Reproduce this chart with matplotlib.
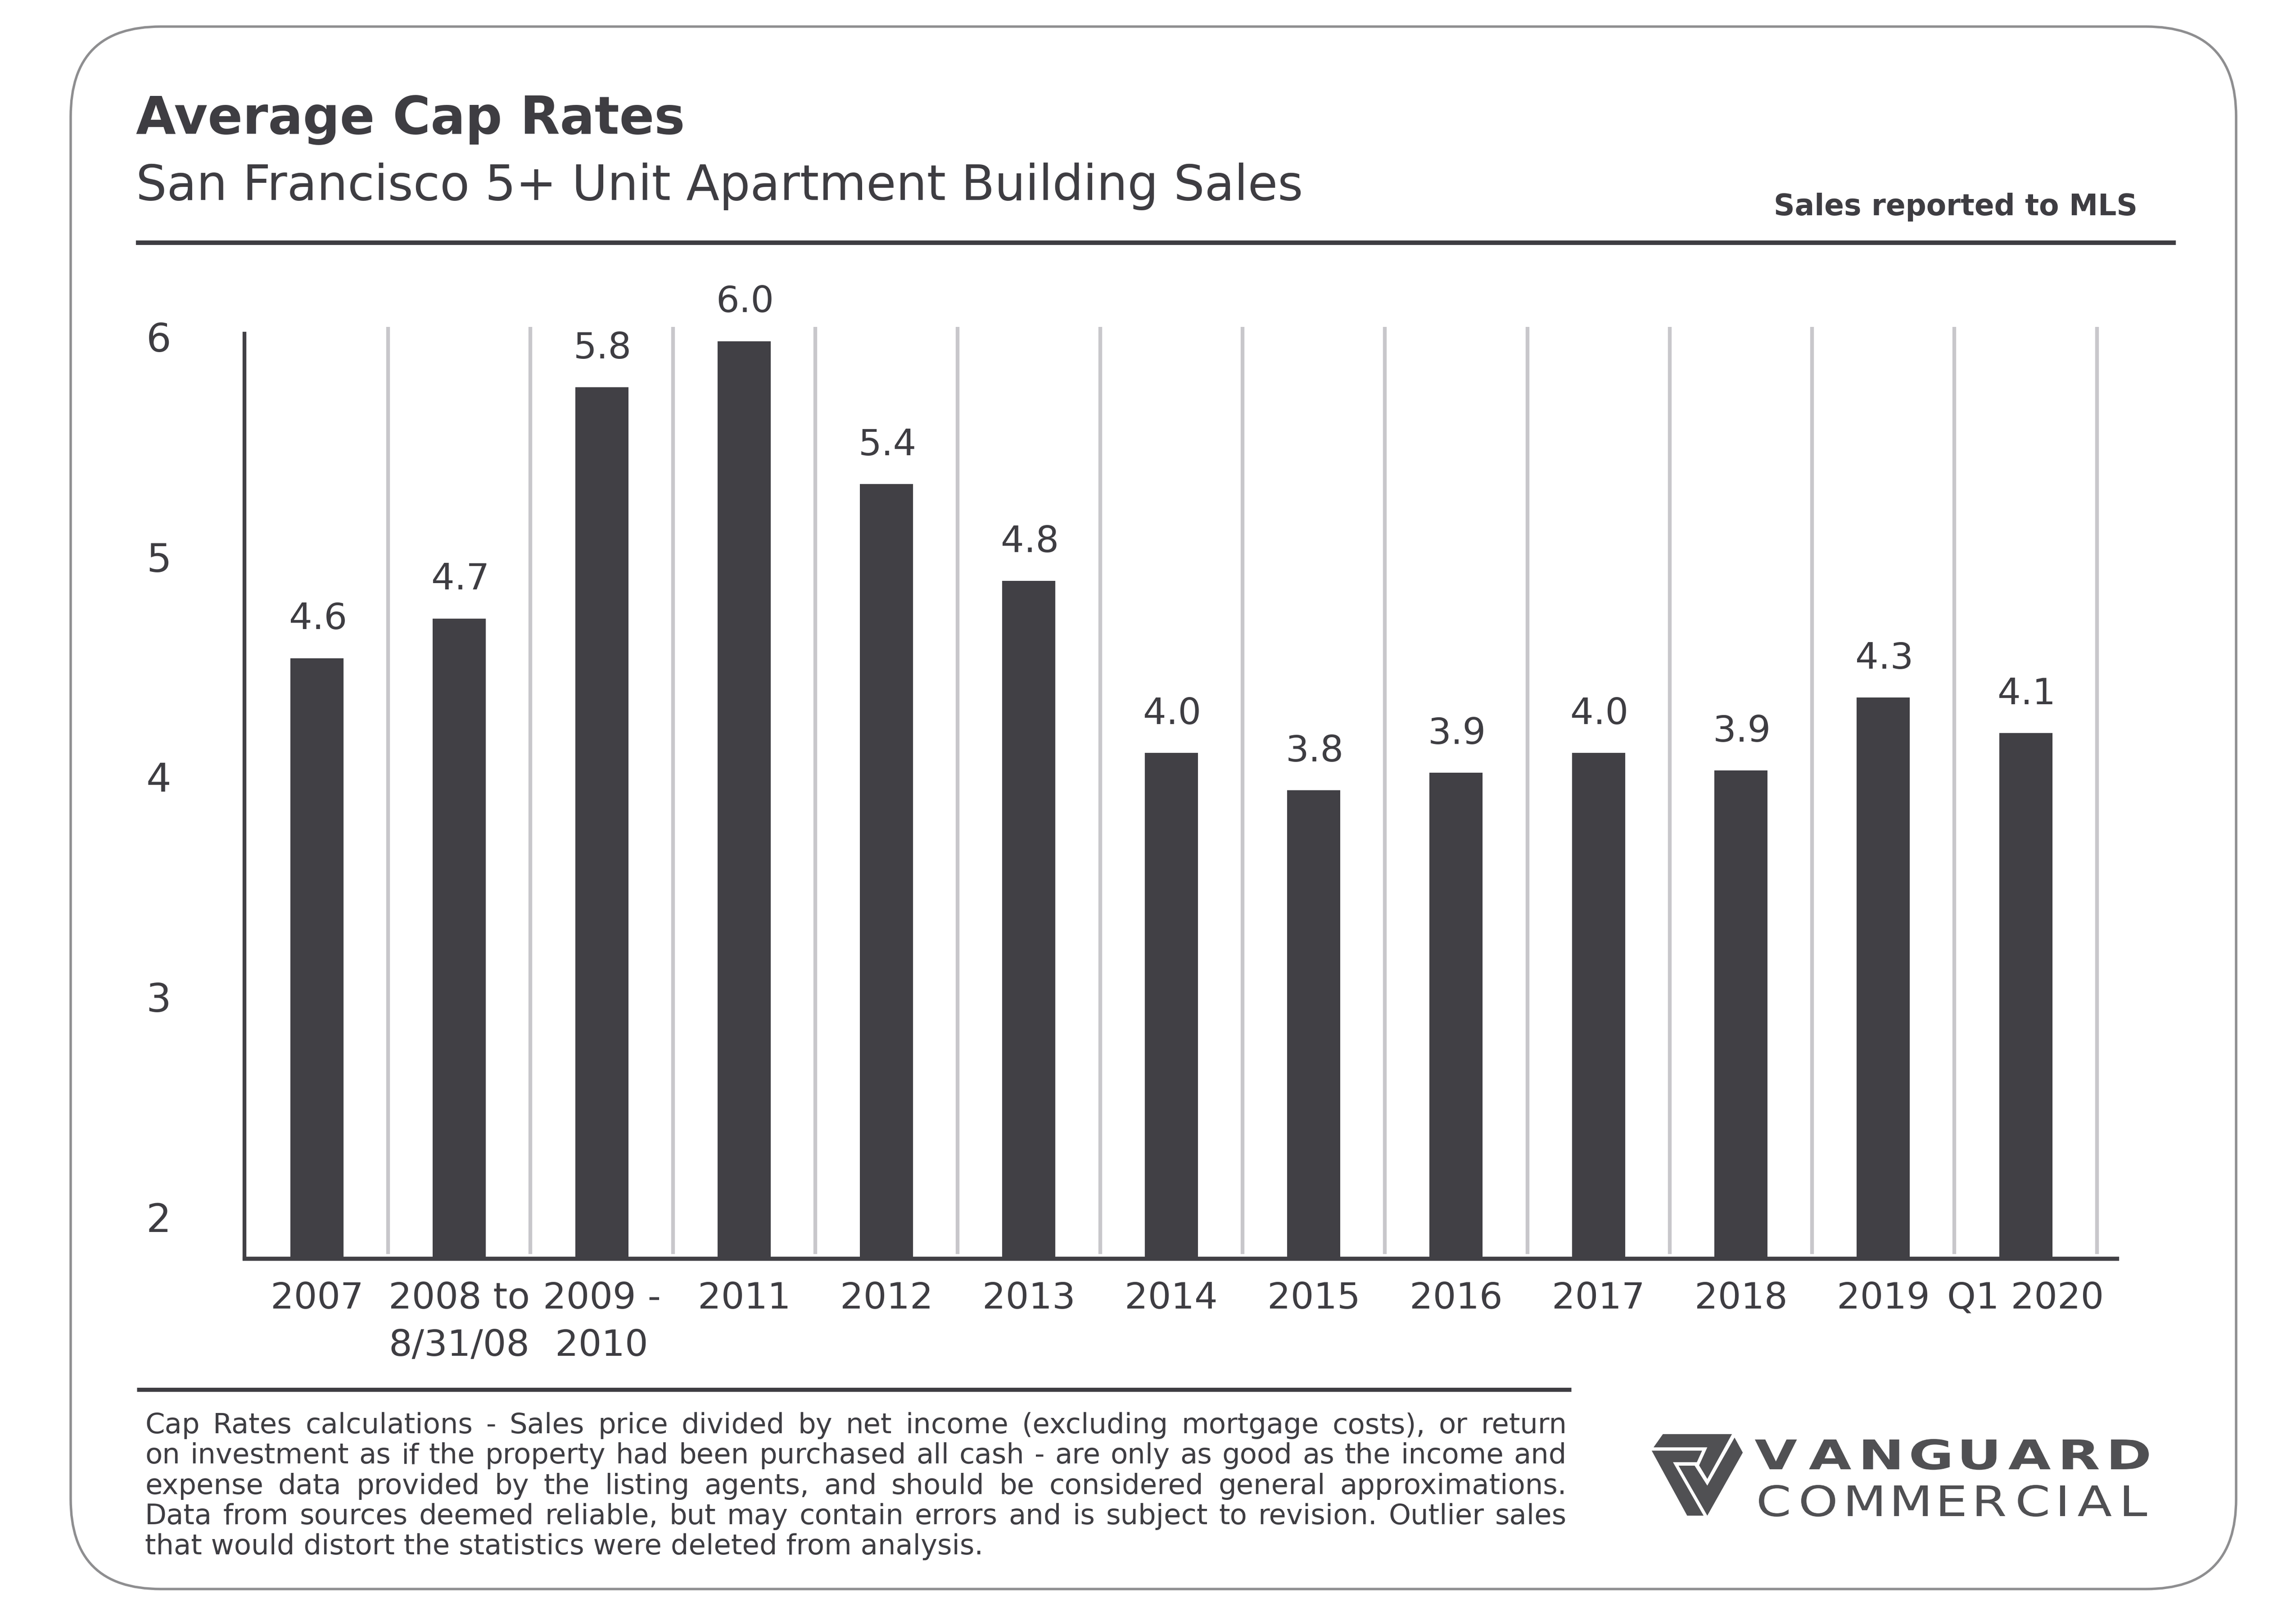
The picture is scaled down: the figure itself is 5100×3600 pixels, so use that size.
import numpy as np
import matplotlib
matplotlib.use("Agg")
import matplotlib.pyplot as plt
from matplotlib.patches import FancyBboxPatch, Polygon, PathPatch
from matplotlib.textpath import TextPath
from matplotlib.font_manager import FontProperties
from matplotlib.transforms import Affine2D

# data
categories = ['2007', '2008 to\n8/31/08', '2009 -\n2010', '2011', '2012', '2013', '2014',
              '2015', '2016', '2017', '2018', '2019', 'Q1 2020']
bar_heights = [4.54, 4.72, 5.77, 5.98, 5.33, 4.89, 4.11, 3.94, 4.02, 4.11, 4.03, 4.36, 4.20]
bar_labels = ['4.6', '4.7', '5.8', '6.0', '5.4', '4.8', '4.0', '3.8', '3.9', '4.0', '3.9', '4.3', '4.1']
y_ticks = [2, 3, 4, 5, 6]

title = 'Average Cap Rates'
subtitle = 'San Francisco 5+ Unit Apartment Building Sales'
source = 'Sales reported to MLS'
footer = ['Cap Rates calculations - Sales price divided by net income (excluding mortgage costs), or return',
          'on investment as if the property had been purchased all cash - are only as good as the income and',
          'expense data provided by the listing agents, and should be considered general approximations.',
          'Data from sources deemed reliable, but may contain errors and is subject to revision. Outlier sales',
          'that would distort the statistics were deleted from analysis.']

TXT = '#3e3d42'
BAR = '#414045'
SEP = '#c8c7cb'
LOGO = '#505053'

plt.rcParams['font.family'] = ['DejaVu Sans']

W, H = 5100, 3600
fig = plt.figure(figsize=(17, 12), dpi=300)

# background axes in pixel units
bg = fig.add_axes([0, 0, 1, 1], zorder=0)
bg.set_xlim(0, W)
bg.set_ylim(H, 0)
bg.axis('off')

bg.add_patch(FancyBboxPatch((157, 59), 4810, 3470, boxstyle='round,pad=0,rounding_size=200',
                            fill=False, ec='#8e8e90', lw=1.3))

bg.text(302, 297, title, fontsize=27.5, fontweight='bold', color=TXT, va='baseline')
bg.text(302, 444, subtitle, fontsize=25.9, color=TXT, va='baseline')
bg.text(4748, 478, source, fontsize=15.5, fontweight='bold', color=TXT, va='baseline', ha='right')
bg.plot([302, 4833], [539, 539], color=TXT, lw=2.4, solid_capstyle='butt')
bg.plot([304, 3490], [3086, 3086], color=TXT, lw=2.2, solid_capstyle='butt')

renderer = fig.canvas.get_renderer()


def justify(tokens, x0, x1, y, size, **kw):
    txts = [bg.text(0, y, t, va='baseline', ha='left', fontsize=size, **kw) for t in tokens]
    widths = [t.get_window_extent(renderer).width for t in txts]
    gap = (x1 - x0 - sum(widths)) / max(len(tokens) - 1, 1)
    if gap < size * 0.2:  # line too long, shrink it a bit
        f = (x1 - x0 - size * 0.25 * (len(tokens) - 1)) / sum(widths)
        for t in txts:
            t.set_fontsize(size * f)
        widths = [w * f for w in widths]
        gap = (x1 - x0 - sum(widths)) / max(len(tokens) - 1, 1)
    x = x0
    for t, w in zip(txts, widths):
        t.set_x(x)
        x += w + gap


for i, line in enumerate(footer):
    yb = 3183 + i * 67.3
    if i < len(footer) - 1:
        justify(line.split(), 322, 3480, yb, 15, color=TXT)
    else:
        bg.text(322, yb, line, fontsize=15, color=TXT, va='baseline')


# logo: wide letters drawn as stretched glyph outlines
def stretched(text, x0, x1, baseline, cap, sx, weight):
    fp = FontProperties(family='DejaVu Sans', weight=weight)
    paths = [TextPath((0, 0), ch, size=1, prop=fp) for ch in text]
    s = cap / 0.729
    widths = [p.get_extents().width * s * sx for p in paths]
    gap = (x1 - x0 - sum(widths)) / (len(text) - 1)
    x = x0
    for p, w in zip(paths, widths):
        ext = p.get_extents()
        tr = Affine2D().translate(-ext.x0, 0).scale(s * sx, -s).translate(x, baseline)
        bg.add_patch(PathPatch(tr.transform_path(p), fc=LOGO, ec='none'))
        x += w + gap


stretched('VANGUARD', 3898, 4773, 3263, 66, 1.35, 'bold')
stretched('COMMERCIAL', 3907, 4769, 3367, 68, 1.2, 'normal')


def lp(pts):
    return [(3600 + zx / 1.206, 3100 + zy / 3) for zx, zy in pts]


for pts in [[(113, 255), (298, 255), (232, 553), (210, 463), (232, 343), (88, 343)],
            [(83, 365), (218, 365), (204, 442), (140, 442), (222, 798), (178, 798)],
            [(155, 465), (198, 465), (232, 598), (305, 278), (327, 378), (232, 798)]]:
    bg.add_patch(Polygon(lp(pts), closed=True, fc=LOGO, ec='none'))

# chart
ax = fig.add_axes([543 / W, 1 - 2795 / H, (4702 - 543) / W, (2795 - 741) / H], zorder=1)
ax.patch.set_alpha(0)
x = np.arange(len(categories))
ax.vlines(x + 0.5, 1.832, 6.045, color=SEP, lw=2, clip_on=False, zorder=1)
bars = ax.bar(x, bar_heights, width=0.373, color=BAR, zorder=3)
for xi, h, lab in zip(x, bar_heights, bar_labels):
    ax.annotate(lab, (xi, h), xytext=(0.5, 15.4), textcoords='offset points',
                ha='center', va='baseline', fontsize=19.5, color=TXT)

ax.set_xlim(-0.509, 12.64)
ax.set_ylim(1.812, 6.014)
ax.set_xticks(x)
ax.set_xticklabels(categories, fontsize=19.5, color=TXT, linespacing=1.45)
ax.set_yticks(y_ticks)
ax.set_yticklabels([str(v) for v in y_ticks], fontsize=21, color=TXT)
ax.tick_params(axis='both', length=0)
ax.tick_params(axis='y', pad=39)
ax.tick_params(axis='x', pad=12)
for s in ['top', 'right']:
    ax.spines[s].set_visible(False)
ax.spines['left'].set_color(BAR)
ax.spines['left'].set_linewidth(2)
ax.spines['bottom'].set_color(BAR)
ax.spines['bottom'].set_linewidth(2.2)

fig.savefig('out.png', dpi=300, facecolor='white')
